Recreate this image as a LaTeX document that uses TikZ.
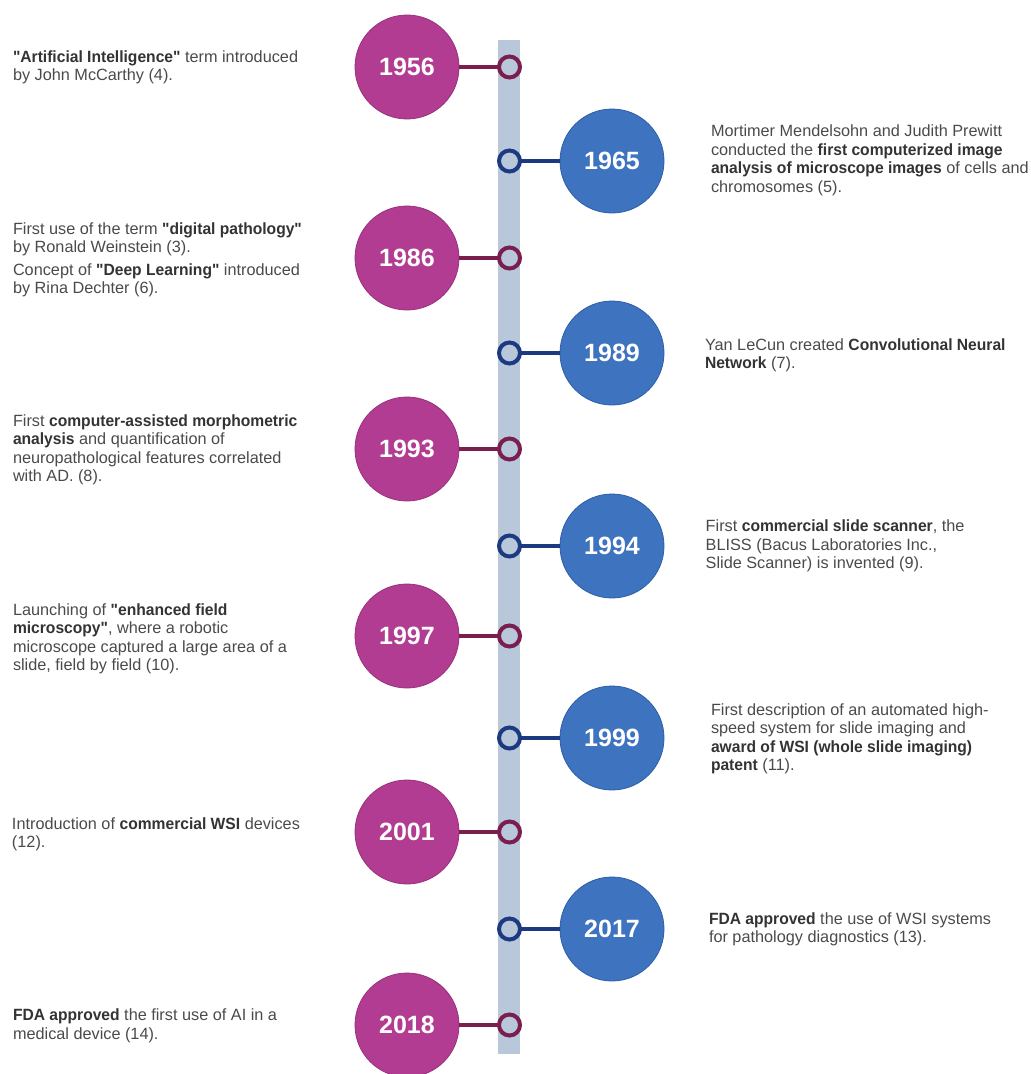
\documentclass[tikz,border=0pt]{standalone}
\usepackage{fontspec}
\setmainfont{Liberation Sans}[Ligatures=TeXOff,BoldFeatures={FakeStretch=0.96}]
\newfontfamily\yearfont{Liberation Sans Bold}
\definecolor{magfill}{HTML}{B23C92}
\definecolor{magedge}{HTML}{98307C}
\definecolor{maroon}{HTML}{7A1E4E}
\definecolor{bluefill}{HTML}{3E73C0}
\definecolor{blueedge}{HTML}{2E5DA6}
\definecolor{navy}{HTML}{1C3A82}
\definecolor{barcol}{HTML}{B9C7DA}
\definecolor{txt}{HTML}{4A4A4A}
\definecolor{txtbold}{HTML}{333333}
\newcommand\bt[1]{{\bfseries\color{txtbold}#1}}
\begin{document}
\begin{tikzpicture}[x=0.75pt,y=-0.75pt,
  yearL/.style={circle, fill=magfill, draw=magedge, line width=0.6pt, minimum size=78pt, inner sep=0pt, text=white, font=\fontsize{18.75}{20}\yearfont},
  yearR/.style={circle, fill=bluefill, draw=blueedge, line width=0.6pt, minimum size=78pt, inner sep=0pt, text=white, font=\fontsize{18.75}{20}\yearfont},
  ringL/.style={circle, draw=maroon, fill=barcol, line width=3pt, minimum size=15.75pt, inner sep=0pt, outer sep=0pt},
  ringR/.style={circle, draw=navy, fill=barcol, line width=3pt, minimum size=15.75pt, inner sep=0pt, outer sep=0pt},
  linkL/.style={draw=maroon, line width=2.6pt},
  linkR/.style={draw=navy, line width=2.6pt},
  desc/.style={anchor=north west, inner sep=0pt, outer sep=0pt, align=left, text=txt, font=\fontsize{12.2}{13.95}\selectfont}
]
\useasboundingbox (0,0) rectangle (1031,1074);
% timeline bar
\fill[barcol] (498,40) rectangle (520,1054);

% year circles
\node[yearL] (c1956) at (407,67) {1956};
\node[yearR] (c1965) at (612,161) {1965};
\node[yearL] (c1986) at (407,258) {1986};
\node[yearR] (c1989) at (612,353) {1989};
\node[yearL] (c1993) at (407,449) {1993};
\node[yearR] (c1994) at (612,546) {1994};
\node[yearL] (c1997) at (407,636) {1997};
\node[yearR] (c1999) at (612,738) {1999};
\node[yearL] (c2001) at (407,832) {2001};
\node[yearR] (c2017) at (612,929) {2017};
\node[yearL] (c2018) at (407,1025) {2018};

% rings on the bar
\node[ringL] (r1956) at (509.5,67) {};
\node[ringR] (r1965) at (509.5,161) {};
\node[ringL] (r1986) at (509.5,258) {};
\node[ringR] (r1989) at (509.5,353) {};
\node[ringL] (r1993) at (509.5,449) {};
\node[ringR] (r1994) at (509.5,546) {};
\node[ringL] (r1997) at (509.5,636) {};
\node[ringR] (r1999) at (509.5,738) {};
\node[ringL] (r2001) at (509.5,832) {};
\node[ringR] (r2017) at (509.5,929) {};
\node[ringL] (r2018) at (509.5,1025) {};

% connectors
\draw[linkL] (c1956) -- (r1956);
\draw[linkR] (c1965) -- (r1965);
\draw[linkL] (c1986) -- (r1986);
\draw[linkR] (c1989) -- (r1989);
\draw[linkL] (c1993) -- (r1993);
\draw[linkR] (c1994) -- (r1994);
\draw[linkL] (c1997) -- (r1997);
\draw[linkR] (c1999) -- (r1999);
\draw[linkL] (c2001) -- (r2001);
\draw[linkR] (c2017) -- (r2017);
\draw[linkL] (c2018) -- (r2018);

% left descriptions
\node[desc] (t1956) at (13,49.3) {\strut\bt{"Artificial Intelligence"} term introduced\\by John McCarthy (4).};
\node[desc] (t1986a) at (13,221) {\strut First use of the term \bt{"digital pathology"}\\by Ronald Weinstein (3).};
\node[desc] (t1986b) at (13,262) {\strut Concept of \bt{"Deep Learning"} introduced\\by Rina Dechter (6).};
\node[desc] (t1993) at (13,413) {\strut First \bt{computer-assisted morphometric}\\\bt{analysis} and quantification of\\neuropathological features correlated\\with AD. (8).};
\node[desc] (t1997) at (13,602) {\strut Launching of \bt{"enhanced field}\\\bt{microscopy"}, where a robotic\\microscope captured a large area of a\\slide, field by field (10).};
\node[desc] (t2001) at (12,816.3) {\strut Introduction of \bt{commercial WSI} devices\\(12).};
\node[desc] (t2018) at (13,1007.7) {\strut\bt{FDA approved} the first use of AI in a\\medical device (14).};

% right descriptions
\node[desc] (t1965) at (711,123.7) {\strut Mortimer Mendelsohn and Judith Prewitt\\conducted the \bt{first computerized image}\\\bt{analysis of microscope images} of cells and\\chromosomes (5).};
\node[desc] (t1989) at (705,337) {\strut Yan LeCun created \bt{Convolutional Neural}\\\bt{Network} (7).};
\node[desc] (t1994) at (705.7,518.7) {\strut First \bt{commercial slide scanner}, the\\BLISS (Bacus Laboratories Inc.,\\Slide Scanner) is invented (9).};
\node[desc] (t1999) at (711,702) {\strut First description of an automated high-\\speed system for slide imaging and\\\bt{award of WSI (whole slide imaging)}\\\bt{patent} (11).};
\node[desc] (t2017) at (709,911.3) {\strut\bt{FDA approved} the use of WSI systems\\for pathology diagnostics (13).};
\end{tikzpicture}
\end{document}
